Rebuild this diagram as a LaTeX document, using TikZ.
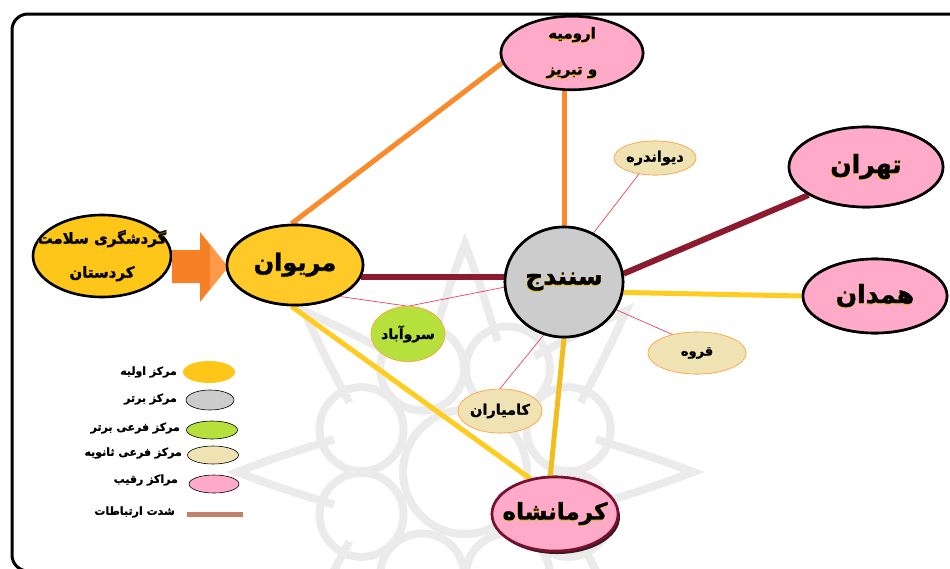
\documentclass[tikz,border=0pt]{standalone}
\usepackage{fontspec}
\newfontfamily\arfont[Script=Arabic,BoldFeatures={FakeBold=1.2}]{DejaVu Sans}
\TeXXeTstate=1
\usetikzlibrary{shapes.geometric}
\definecolor{gold}{HTML}{FFCA28}
\definecolor{goldd}{HTML}{FFC61A}
\definecolor{orl}{HTML}{F98B2D}
\definecolor{arrowc}{HTML}{F58025}
\definecolor{arrowl}{HTML}{FF9A4A}
\definecolor{dred}{HTML}{8C1B2F}
\definecolor{yel}{HTML}{FFCC22}
\definecolor{yeld}{HTML}{F0BE1E}
\definecolor{pinkc}{HTML}{FFAAC9}
\definecolor{greyc}{HTML}{CCCCCC}
\definecolor{greenc}{HTML}{B6E03C}
\definecolor{beige}{HTML}{EFE2B3}
\definecolor{thinr}{HTML}{E8455A}
\definecolor{brownc}{HTML}{C0806A}
\definecolor{kmborder}{HTML}{7A1030}
\definecolor{glow}{HTML}{E8B800}
\definecolor{shadowc}{HTML}{3A1A20}
\definecolor{wmark}{HTML}{EBEBEB}
\newcommand\AR[1]{{\arfont\bfseries\beginR #1\endR}}
% zero-width label with a yellow glow behind
\newcommand\GL[1]{\makebox[0pt][c]{\raisebox{-0.9pt}{\hspace{-0.9pt}\textcolor{glow}{\AR{#1}}}}\makebox[0pt][c]{\AR{#1}}}
\newcommand\ZL[1]{\makebox[0pt][c]{\AR{#1}}}
\tikzset{
  bigell/.style={ellipse, draw=black, line width=2.6pt, inner sep=0pt},
  smallell/.style={ellipse, draw=orange!70, line width=0.6pt, inner sep=0pt},
  legell/.style={ellipse, draw=black, line width=0.6pt, inner sep=0pt, minimum width=50pt, minimum height=20pt},
  legtxt/.style={anchor=east, inner sep=0pt, font=\fontsize{11}{13}\selectfont},
  orline/.style={orl, line width=5pt},
  redline/.style={dred, line width=6pt},
  yline/.style={yel, line width=5pt},
  thinline/.style={thinr, line width=0.7pt},
  wm/.style={wmark, line width=8pt},
  mar/.style={bigell, fill=gold, minimum width=136pt, minimum height=80pt, font=\fontsize{24}{26}\selectfont},
  sn/.style={bigell, fill=greyc, minimum width=118pt, minimum height=110pt, font=\fontsize{25}{26}\selectfont},
  ur/.style={bigell, fill=pinkc, minimum width=142pt, minimum height=70pt, align=center, font=\fontsize{15}{36}\selectfont},
  th/.style={bigell, fill=pinkc, minimum width=154pt, minimum height=80pt, font=\fontsize{25}{26}\selectfont},
  hm/.style={bigell, fill=pinkc, minimum width=144pt, minimum height=74pt, font=\fontsize{25}{26}\selectfont},
  km/.style={bigell, draw=kmborder, fill=pinkc, minimum width=126pt, minimum height=74pt, font=\fontsize{23}{26}\selectfont},
  dv/.style={smallell, fill=beige, minimum width=82pt, minimum height=34pt, font=\fontsize{14.5}{16}\selectfont},
  qr/.style={smallell, fill=beige, minimum width=98pt, minimum height=42pt, font=\fontsize{13}{16}\selectfont},
  ka/.style={smallell, fill=beige, minimum width=84pt, minimum height=44pt, font=\fontsize{14.5}{16}\selectfont},
  sa/.style={smallell, fill=greenc, minimum width=74pt, minimum height=55pt, font=\fontsize{14}{16}\selectfont},
}
\begin{document}
\begin{tikzpicture}[x=1pt,y=-1pt]
\useasboundingbox (0,0) rectangle (950,568);
\fill[white] (0,0) rectangle (950,568);

% faint watermark rosette
\begin{scope}[shift={(465,472)}]
  \foreach \a in {0,45,...,315} {
    \draw[wm] (\a-14:135) .. controls (\a-5:185) .. (\a:228) .. controls (\a+5:185) .. (\a+14:135);
    \draw[wm] (\a+22.5:112) circle [radius=42];
  }
  \draw[wm] (0,0) circle [radius=62];
\end{scope}

% frame
\draw[line width=3pt, rounded corners=16pt] (12,14) rectangle (966,571);

% nodes (first pass, for names)
\node[bigell, fill=goldd, minimum width=138pt, minimum height=82pt, align=center,
      font=\fontsize{15}{34}\selectfont] (gs) at (102,256) {\GL{گردشگری سلامت}\\\GL{کردستان}};
\node[mar] (mar) at (295,265) {};
\node[sn] (sn) at (564,282) {};
\node[ur] (ur) at (572,53) {};
\node[th] (th) at (866,167) {};
\node[hm] (hm) at (875,296) {};
\node[km] (km) at (555,514) {};
\node[dv] (dv) at (655,158) {};
\node[qr] (qr) at (697,353) {};
\node[ka] (ka) at (500,411) {};
\node[sa] (sa) at (408,334) {};

% block arrow
\fill[arrowc] (172,250) -- (200,250) -- (200,232) -- (228,267) -- (200,302) -- (200,283) -- (172,283) -- cycle;
\fill[arrowl] (210,244.5) -- (228,267) -- (210,289.5) -- cycle;

% connectors
\draw[orline] (mar.95) -- (ur.188);
\draw[orline] (sn.north) -- (sn.north |- ur.south);
\draw[redline] (mar.-10) -- (mar.-10 -| sn.west);
\draw[redline] (sn.8) -- (th.206);
\draw[yline] (sn.-10) -- (hm.west);
\draw[yeld, line width=5pt] (sn.south) -- (km.97);
\draw[yline] (mar.265) -- (km.125);
\draw[thinline] (mar.-35) -- (sa.north) -- (sn.185);
\draw[thinline] (sn.59) -- (dv.225);
\draw[thinline] (sn.-28) -- (qr.143);
\draw[thinline] (sn.249) -- (ka.north);

% shadow of Kermanshah
\fill[shadowc] ([shift={(2,3)}]km.center) ellipse [x radius=63pt, y radius=37pt];

% nodes on top of connectors
\node[mar] at (mar.center) {\GL{مریوان}};
\node[sn] at (sn.center) {\GL{سنندج}};
\node[ur] at (ur.center) {\GL{ارومیه}\\\GL{و تبریز}};
\node[th] at (th.center) {\GL{تهران}};
\node[hm] at (hm.center) {\GL{همدان}};
\node[km] at (km.center) {\GL{کرمانشاه}};
\node[dv] at (dv.center) {\ZL{دیواندره}};
\node[qr] at (qr.center) {\ZL{قروه}};
\node[ka] at (ka.center) {\ZL{کامیاران}};
\node[sa] at (sa.center) {\ZL{سروآباد}};

% legend
\node[legell, fill=goldd, draw=none, minimum width=52pt, minimum height=22pt] (l1) at (209,372) {};
\node[legell, fill=greyc, minimum width=48pt] (l2) at (210,400) {};
\node[legell, fill=greenc, minimum width=51pt, minimum height=18pt] (l3) at (212,430) {};
\node[legell, fill=beige, minimum width=51pt, minimum height=18pt] (l4) at (213,455) {};
\node[legell, fill=pinkc, minimum width=50pt, minimum height=18pt] (l5) at (214,484) {};
\coordinate (l6a) at (187,514);
\coordinate (l6b) at (243,514);
\draw[brownc, line width=5pt] (l6a) -- (l6b);
\node[legtxt] (t1) at (177,372) {\AR{مرکز اولیه}};
\node[legtxt] (t2) at (177,399) {\AR{مرکز برتر}};
\node[legtxt] (t3) at (180,428) {\AR{مرکز فرعی برتر}};
\node[legtxt] (t4) at (182,453) {\AR{مرکز فرعی ثانویه}};
\node[legtxt] (t5) at (178,480) {\AR{مراکز رقیب}};
\node[legtxt] (t6) at (175,512) {\AR{شدت ارتباطات}};
\end{tikzpicture}
\end{document}
